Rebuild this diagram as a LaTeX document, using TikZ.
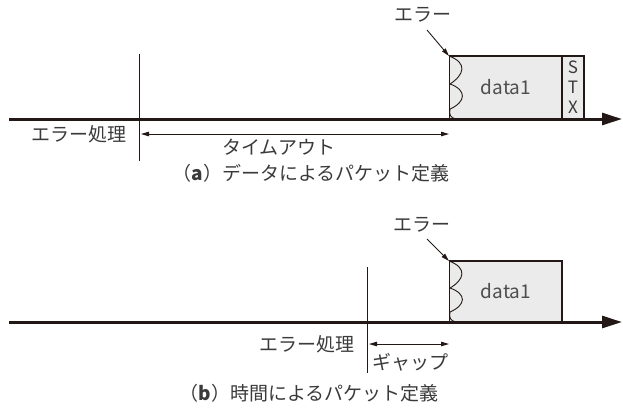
\documentclass[tikz,border=0pt]{standalone}
\usepackage{fontspec}
\setmainfont{Noto Sans CJK JP}
\usetikzlibrary{arrows.meta}
\definecolor{ink}{HTML}{231815}
\definecolor{txt}{HTML}{3A3A3A}
\definecolor{boxfill}{HTML}{EBEBEB}
\tikzset{
  lbl/.style={inner sep=0pt, text=txt, font=\fontsize{19pt}{21pt}\selectfont},
  axisline/.style={draw=ink, line width=3pt, -{Triangle[length=20pt,width=12pt]}},
  thinline/.style={draw=ink, line width=0.9pt},
  dimarrow/.style={draw=ink, line width=0.9pt, {Triangle[length=8pt,width=4.5pt]}-{Triangle[length=8pt,width=4.5pt]}},
  errarrow/.style={draw=ink, line width=0.9pt, -{Triangle[length=8pt,width=4.5pt]}},
  framebox/.style={draw=ink, line width=2pt},
  pkt/.style={fill=boxfill, inner sep=0pt, minimum height=63pt, anchor=north west},
}
\begin{document}
\begin{tikzpicture}[x=1pt,y=-1pt]
\useasboundingbox (0,0) rectangle (623,408);

% ---------- (a) ----------
\coordinate (a0) at (9,119);
\coordinate (a1) at (622,119);
\coordinate (avt) at (139,54);
\coordinate (avb) at (139,161);
\node[pkt, minimum width=113pt] (adata) at (449,56) {};
\node[pkt, minimum width=22pt] (astx) at (562,56) {};
\node[lbl, text=txt!90] (adatal) at (506,87) {data1};
\node[lbl, align=center, font=\fontsize{17pt}{20pt}\selectfont] (astxl) at (573,87) {S\\T\\X};
\draw[framebox] (adata.south west) -- (adata.south east) -- (adata.north east) -- (adata.north west);
\draw[framebox] (astx.north west) -- (astx.north east) -- (astx.south east);
\draw[thinline] (adata.north west) -- (adata.south west);
\draw[thinline] (adata.north west) .. controls (468,63) and (464,75) .. (450,84)
  .. controls (467,90) and (466,102) .. (450,109) .. controls (449,114) and (450,118) .. (456,119);
\draw[axisline] (a0) -- (a1);
\draw[thinline] (avt) -- (avb);
\coordinate (atl) at (141,134);
\coordinate (atr) at (449,134);
\draw[dimarrow] (atl) -- (atr);
\node[lbl, anchor=east] (aerrproc) at (127,134) {エラー処理};
\node[lbl] (atimeout) at (279,147) {タイムアウト};
\node[lbl] (acap) at (311,173) {（\textbf{a}）データによるパケット定義};
\node[lbl] (aerr) at (423,15) {エラー};
\coordinate (aerrs) at (427,30);
\draw[errarrow] (aerrs) -- (adata.north west);

% ---------- (b) ----------
\coordinate (b0) at (9,322);
\coordinate (b1) at (622,322);
\coordinate (bvt) at (367,267);
\coordinate (bvb) at (367,373);
\node[pkt, minimum height=61pt, minimum width=113pt] (bdata) at (449,261) {};
\node[lbl, text=txt!90] (bdatal) at (506,291) {data1};
\draw[framebox] (bdata.south west) -- (bdata.south east) -- (bdata.north east) -- (bdata.north west);
\draw[thinline] (bdata.north west) -- (bdata.south west);
\draw[thinline] (bdata.north west) .. controls (468,268) and (464,280) .. (450,288)
  .. controls (467,294) and (466,305) .. (450,312) .. controls (449,317) and (450,321) .. (456,322);
\draw[axisline] (b0) -- (b1);
\draw[thinline] (bvt) -- (bvb);
\coordinate (bgl) at (369,344);
\coordinate (bgr) at (449,344);
\draw[dimarrow] (bgl) -- (bgr);
\node[lbl, anchor=east] (berrproc) at (355,344) {エラー処理};
\node[lbl] (bgap) at (410,362) {ギャップ};
\node[lbl] (bcap) at (309,393) {（\textbf{b}）時間によるパケット定義};
\node[lbl] (berr) at (422,225) {エラー};
\coordinate (berrs) at (427,239);
\draw[errarrow] (berrs) -- (bdata.north west);
\end{tikzpicture}
\end{document}
